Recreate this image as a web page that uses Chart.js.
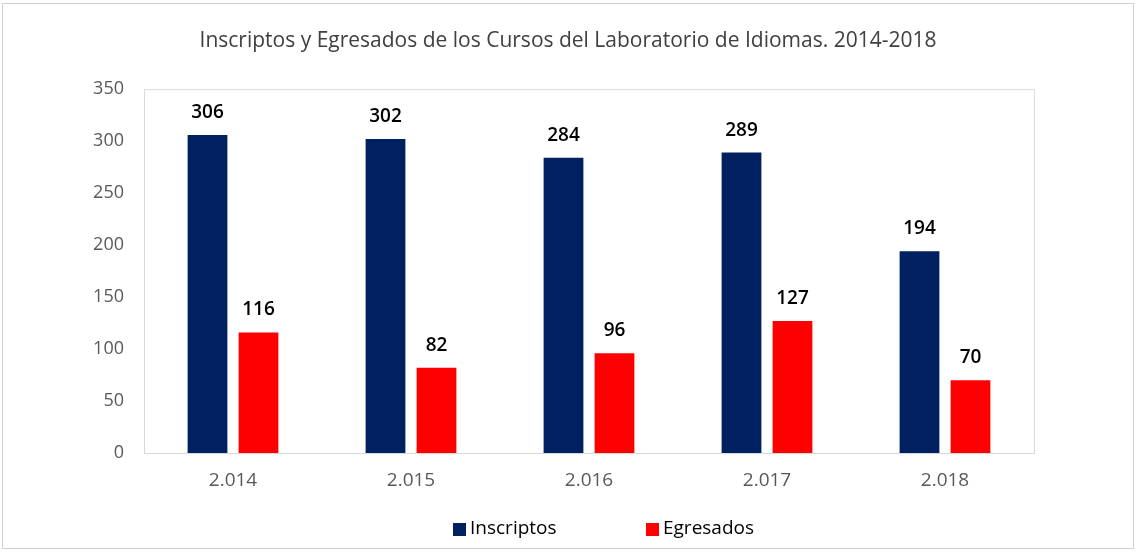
<!DOCTYPE html>
<html lang="es">
<head>
<meta charset="UTF-8">
<title>Inscriptos y Egresados</title>
<script src="https://cdn.jsdelivr.net/npm/chart.js"></script>
<style>
html, body { margin: 0; padding: 0; background: #fff; }
.chart-container { width: 1136px; height: 551px; }
</style>
</head>
<body>
<div class="chart-container">
  <canvas id="barChart"></canvas>
</div>
<script>
const years = ['2.014', '2.015', '2.016', '2.017', '2.018'];
const inscriptos = [306, 302, 284, 289, 194];
const egresados = [116, 82, 96, 127, 70];
const seriesNames = ['Inscriptos', 'Egresados'];
const seriesColors = ['#002060', '#FF0000'];
const yTicks = [0, 50, 100, 150, 200, 250, 300, 350];

const FONT = '"Open Sans", "Noto Sans", sans-serif';

// outer frame + plot area box
const framePlugin = {
  id: 'frame',
  beforeDraw(chart) {
    const { ctx, chartArea: a } = chart;
    ctx.save();
    ctx.fillStyle = '#fff';
    ctx.fillRect(0, 0, chart.width, chart.height);
    ctx.strokeStyle = '#d0d0d0';
    ctx.lineWidth = 1;
    ctx.strokeRect(2.5, 3.5, chart.width - 5, chart.height - 6);
    ctx.strokeStyle = '#d9d9d9';
    ctx.strokeRect(a.left + 0.5, a.top + 0.5, a.right - a.left, a.bottom - a.top);
    ctx.restore();
  }
};

// value labels above bars
const valueLabels = {
  id: 'valueLabels',
  afterDatasetsDraw(chart) {
    const { ctx } = chart;
    ctx.save();
    ctx.font = '600 19px ' + FONT;
    ctx.fillStyle = '#000';
    ctx.textAlign = 'center';
    ctx.textBaseline = 'alphabetic';
    chart.data.datasets.forEach((ds, i) => {
      chart.getDatasetMeta(i).data.forEach((bar, j) => {
        ctx.fillText(ds.data[j], bar.x, bar.y - 17);
      });
    });
    ctx.restore();
  }
};

// bottom legend
const bottomLegend = {
  id: 'bottomLegend',
  afterDraw(chart) {
    const { ctx } = chart;
    const xs = [453, 646];
    ctx.save();
    ctx.font = '500 19px ' + FONT;
    ctx.textBaseline = 'middle';
    chart.data.datasets.forEach((ds, i) => {
      ctx.fillStyle = ds.backgroundColor;
      ctx.fillRect(xs[i], 523, 13, 13);
      ctx.fillStyle = '#000';
      ctx.fillText(ds.label, xs[i] + 17, 529);
    });
    ctx.restore();
  }
};

new Chart(document.getElementById('barChart'), {
  type: 'bar',
  data: {
    labels: years,
    datasets: [
      { label: seriesNames[0], data: inscriptos, backgroundColor: seriesColors[0] },
      { label: seriesNames[1], data: egresados, backgroundColor: seriesColors[1] }
    ]
  },
  options: {
    responsive: true,
    maintainAspectRatio: false,
    animation: false,
    categoryPercentage: 0.573,
    barPercentage: 0.78,
    layout: { padding: 0 },
    plugins: {
      legend: { display: false },
      tooltip: { enabled: false },
      title: {
        display: true,
        text: 'Inscriptos y Egresados de los Cursos del Laboratorio de Idiomas. 2014-2018',
        color: '#404040',
        font: { family: FONT, size: 21, weight: 'normal' },
        padding: { top: 28, bottom: 36 }
      }
    },
    scales: {
      x: {
        grid: { display: false, drawTicks: false },
        border: { display: false },
        ticks: { color: '#595959', font: { family: FONT, size: 19 }, padding: 16 },
        afterFit(scale) { scale.height = 98; }
      },
      y: {
        min: 0,
        max: 350,
        grid: { display: false, drawTicks: false },
        border: { display: false },
        afterBuildTicks(scale) { scale.ticks = yTicks.map(v => ({ value: v })); },
        ticks: { color: '#595959', font: { family: FONT, size: 18 }, padding: 20 },
        afterFit(scale) { scale.width = 144; }
      },
      // empty right-hand space, as in the original
      yRight: {
        position: 'right',
        min: 0,
        max: 350,
        grid: { display: false, drawTicks: false },
        border: { display: false },
        ticks: { display: false },
        afterFit(scale) { scale.width = 102; }
      }
    }
  },
  plugins: [framePlugin, valueLabels, bottomLegend]
});
</script>
</body>
</html>
